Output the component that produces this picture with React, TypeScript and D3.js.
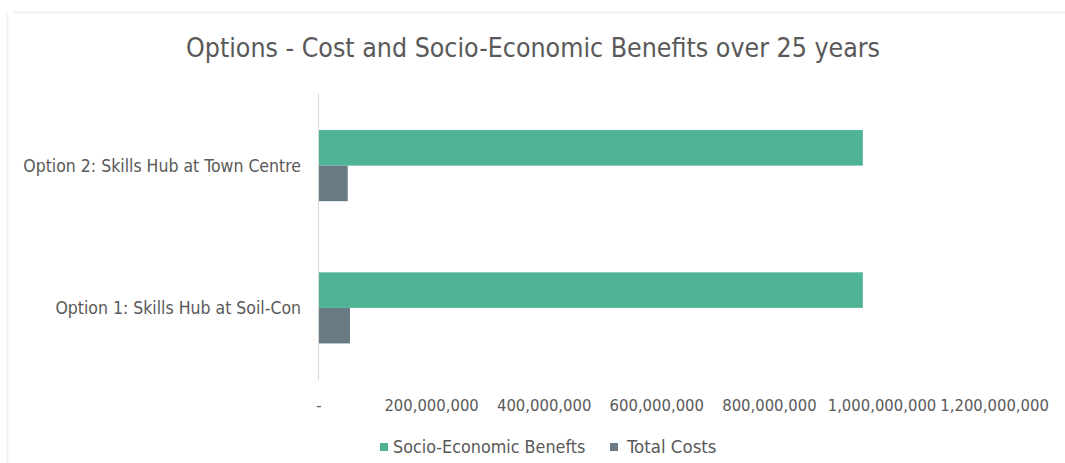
import React from "react";
import * as d3 from "d3";

const categories = ["Option 2: Skills Hub at Town Centre", "Option 1: Skills Hub at Soil-Con"];
const benefits = [966000000, 966000000];
const costs = [51000000, 55000000];
const seriesNames = ["Socio-Economic Benefts", "Total Costs"];
const seriesColors = ["#4fb496", "#687b84"];
const xTicks = [0, 200000000, 400000000, 600000000, 800000000, 1000000000, 1200000000];
const title = "Options - Cost and Socio-Economic Benefits over 25 years";

const W = 1065;
const H = 463;
const FONT = "'DejaVu Sans Condensed', 'Liberation Sans Narrow', sans-serif";

export default function App() {
  const x = d3.scaleLinear().domain([0, 1200000000]).range([319, 994.6]);
  const y = d3.scaleBand().domain(categories).range([94.5, 379]).paddingInner(0.5).paddingOuter(0.25);
  const sub = d3.scaleBand().domain(seriesNames).range([0, y.bandwidth()]);
  const fmt = (v: number) => (v === 0 ? "-" : d3.format(",")(v));
  const series = [benefits, costs];

  return (
    <svg width={W} height={H} style={{ position: "absolute", left: 0, top: 0, background: "#fff" }}>
      <line x1={13} x2={W} y1={12.5} y2={12.5} stroke="#f1f1f1" strokeWidth={2} />
      <line x1={7.5} x2={7.5} y1={14} y2={H} stroke="#f1f1f1" strokeWidth={2} />
      <text x={533} y={57} textAnchor="middle" fontFamily={FONT} fontSize={26.5} fill="#595959" textLength={694} lengthAdjust="spacingAndGlyphs">
        {title}
      </text>
      <line x1={318.5} x2={318.5} y1={93} y2={380} stroke="#d9d9d9" strokeWidth={1} />
      {categories.map((c, i) => (
        <g key={c}>
          {series.map((s, j) => (
            <rect
              key={j}
              x={x(0)}
              y={(y(c) as number) + (sub(seriesNames[j]) as number)}
              width={x(s[i]) - x(0)}
              height={sub.bandwidth()}
              fill={seriesColors[j]}
            />
          ))}
          <text
            x={301}
            y={(y(c) as number) + y.bandwidth() / 2 + 6}
            textAnchor="end"
            fontFamily={FONT}
            fontSize={17.5}
            fill="#595959"
          >
            {c}
          </text>
        </g>
      ))}
      {xTicks.map((t) => (
        <text key={t} x={x(t)} y={410.5} textAnchor="middle" fontFamily={FONT} fontSize={16.5} fill="#595959">
          {fmt(t)}
        </text>
      ))}
      <g>
        <rect x={380} y={443} width={8} height={8} fill={seriesColors[0]} />
        <text x={393} y={453} fontFamily={FONT} fontSize={17.8} fill="#595959">{seriesNames[0]}</text>
        <rect x={610} y={443} width={8} height={8} fill={seriesColors[1]} />
        <text x={627} y={453} fontFamily={FONT} fontSize={18.5} fill="#595959">{seriesNames[1]}</text>
      </g>
    </svg>
  );
}
